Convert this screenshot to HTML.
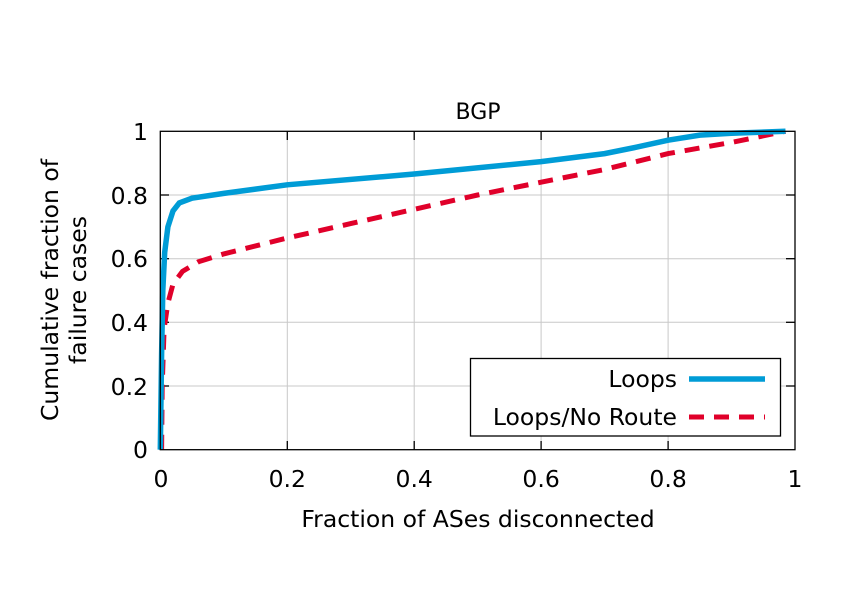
<!DOCTYPE html>
<html><head><meta charset="utf-8"><style>
html,body{margin:0;padding:0;background:#fff}
svg{display:block}
text{font-family:"DejaVu Sans","Liberation Sans",sans-serif;fill:#000}
</style></head><body>
<svg width="846" height="594" viewBox="0 0 846 594" xmlns="http://www.w3.org/2000/svg">
<g stroke="#c8c8c8" stroke-width="1">
<line x1="287.3" y1="131.3" x2="287.3" y2="449.7"/>
<line x1="414.2" y1="131.3" x2="414.2" y2="449.7"/>
<line x1="541.1" y1="131.3" x2="541.1" y2="449.7"/>
<line x1="668.1" y1="131.3" x2="668.1" y2="449.7"/>
<line x1="160.3" y1="195" x2="795" y2="195"/>
<line x1="160.3" y1="258.7" x2="795" y2="258.7"/>
<line x1="160.3" y1="322.3" x2="795" y2="322.3"/>
<line x1="160.3" y1="386" x2="795" y2="386"/>
</g>
<g stroke="#000" stroke-width="1.3">
<line x1="287.3" y1="131.3" x2="287.3" y2="140"/><line x1="287.3" y1="449.7" x2="287.3" y2="441"/>
<line x1="414.2" y1="131.3" x2="414.2" y2="140"/><line x1="414.2" y1="449.7" x2="414.2" y2="441"/>
<line x1="541.1" y1="131.3" x2="541.1" y2="140"/><line x1="541.1" y1="449.7" x2="541.1" y2="441"/>
<line x1="668.1" y1="131.3" x2="668.1" y2="140"/><line x1="668.1" y1="449.7" x2="668.1" y2="441"/>
<line x1="160.3" y1="195" x2="169" y2="195"/><line x1="795" y1="195" x2="786" y2="195"/>
<line x1="160.3" y1="258.7" x2="169" y2="258.7"/><line x1="795" y1="258.7" x2="786" y2="258.7"/>
<line x1="160.3" y1="322.3" x2="169" y2="322.3"/><line x1="795" y1="322.3" x2="786" y2="322.3"/>
<line x1="160.3" y1="386" x2="169" y2="386"/><line x1="795" y1="386" x2="786" y2="386"/>
</g>
<polyline fill="none" stroke="#e0002a" stroke-width="5" stroke-dasharray="15,10" points="161.6,449.7 162.2,386 164.1,328.7 167.9,303.2 173,284.1 182.5,271.4 198.4,261.8 223.8,253.9 287.2,238 350.7,223.6 414.2,209.3 477.6,195 541.1,182.2 604.6,169.5 668.1,153.6 731.5,142.4 785.5,131.3"/>
<polyline fill="none" stroke="#009cd6" stroke-width="5.5" points="160.3,449.7 161.6,354.2 162.8,290.5 164.7,252.3 167.9,226.8 173,210.9 179.3,202.9 192,198.2 223.8,193.4 287.2,184.8 414.2,174 541.1,161.6 604.6,153.6 636.3,147.2 668.1,140.2 699.8,135.1 731.5,133.2 785.5,131.3"/>
<rect x="160.3" y="131.3" width="634.7" height="318.4" fill="none" stroke="#000" stroke-width="1.3"/>
<rect x="470.5" y="358.5" width="310" height="77.5" fill="#fff" stroke="#000" stroke-width="1.3"/>
<text x="677" y="387" font-size="23.5" text-anchor="end">Loops</text>
<line x1="689" y1="379" x2="765" y2="379" stroke="#009cd6" stroke-width="5.5"/>
<text x="677" y="425" font-size="23.5" text-anchor="end">Loops/No Route</text>
<line x1="689" y1="417" x2="765" y2="417" stroke="#e0002a" stroke-width="5" stroke-dasharray="15,10"/>
<g font-size="23.5" text-anchor="end">
<text x="148" y="140">1</text>
<text x="148" y="204">0.8</text>
<text x="148" y="267">0.6</text>
<text x="148" y="331">0.4</text>
<text x="148" y="395">0.2</text>
<text x="148" y="458">0</text>
</g>
<g font-size="23.5" text-anchor="middle">
<text x="161" y="487">0</text>
<text x="287.3" y="487">0.2</text>
<text x="414.2" y="487">0.4</text>
<text x="541.1" y="487">0.6</text>
<text x="668.1" y="487">0.8</text>
<text x="795" y="487">1</text>
<text x="478" y="527">Fraction of ASes disconnected</text>
<text x="478" y="119" font-size="22">BGP</text>
<text transform="translate(58,290) rotate(-90)">Cumulative fraction of</text>
<text transform="translate(86,290) rotate(-90)">failure cases</text>
</g>
</svg>
</body></html>
